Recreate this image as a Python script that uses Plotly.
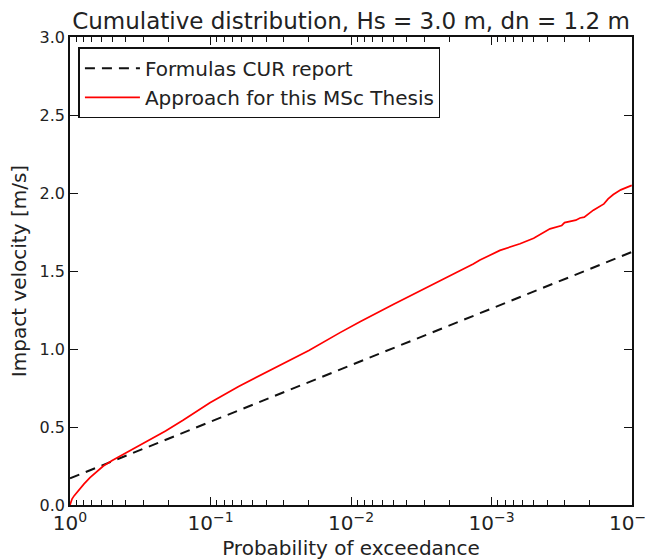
import numpy as np
import plotly.graph_objects as go

# Probability of exceedance as log10 exponents, impact velocities in m/s
cur_log_p = [0.0, -4.0]
cur_velocity = [0.171, 1.622]

thesis_log_p = [0.0, -0.005, -0.015, -0.03, -0.048, -0.07, -0.1, -0.142, -0.19,
                -0.237, -0.3, -0.38, -0.47, -0.57, -0.68, -0.807, -0.9, -0.996,
                -1.2, -1.459, -1.7, -1.922, -2.064, -2.30, -2.45, -2.586, -2.75,
                -2.87, -2.918, -3.06, -3.203, -3.30, -3.416, -3.50, -3.52, -3.60,
                -3.63, -3.66, -3.70, -3.725, -3.80, -3.83, -3.867, -3.92, -3.998]
thesis_velocity = [0.0, 0.02, 0.04, 0.06, 0.08, 0.105, 0.135, 0.175, 0.215,
                   0.25, 0.285, 0.325, 0.37, 0.42, 0.475, 0.545, 0.6, 0.655,
                   0.76, 0.878, 0.99, 1.105, 1.175, 1.285, 1.355, 1.415, 1.49,
                   1.545, 1.57, 1.632, 1.675, 1.71, 1.77, 1.792, 1.81, 1.826,
                   1.84, 1.845, 1.87, 1.89, 1.93, 1.962, 1.99, 2.02, 2.049]

# Decade labels written as powers of ten
x_label_alias = {"1": "10<sup>0</sup>"}
y_tickvals = [0.0, 0.5, 1.0, 1.5, 2.0, 2.5, 3.0]

font_family = "DejaVu Sans"
text_color = "#222222"
axis_color = "#111111"

fig = go.Figure()
fig.add_trace(go.Scatter(
    x=np.power(10.0, cur_log_p), y=cur_velocity, mode="lines",
    name="Formulas CUR report",
    line=dict(color=axis_color, width=2, dash="10px,7px"),
))
fig.add_trace(go.Scatter(
    x=np.power(10.0, thesis_log_p), y=thesis_velocity, mode="lines",
    name="Approach for this MSc Thesis",
    line=dict(color="#ff0000", width=1.7),
))

axis_common = dict(
    showgrid=False, zeroline=False, showline=True, linecolor=axis_color,
    linewidth=1.5, mirror="allticks", ticks="inside", tickcolor=axis_color,
    tickwidth=1, automargin=False, ticklabeloverflow="allow",
    tickfont=dict(family=font_family, size=16, color=text_color),
)

fig.update_xaxes(
    type="log", autorange="reversed", tickmode="linear", tick0=0, dtick=1,
    exponentformat="power", showexponent="all", labelalias=x_label_alias,
    ticklen=8,
    minor=dict(ticks="inside", ticklen=5, tickwidth=1, tickcolor=axis_color,
               dtick="D1", showgrid=False),
    title=dict(text="Probability of exceedance", standoff=8,
               font=dict(family=font_family, size=20, color=text_color)),
    **axis_common,
)
fig.update_yaxes(
    range=[0, 3], tickvals=y_tickvals, tickformat=".1f", ticklen=8,
    title=dict(text="Impact velocity [m/s]", standoff=8,
               font=dict(family=font_family, size=20, color=text_color)),
    **axis_common,
)

fig.update_layout(
    width=645, height=560,
    margin=dict(l=70, r=13, t=37, b=55),
    plot_bgcolor="white", paper_bgcolor="white",
    title=dict(text="Cumulative distribution, Hs = 3.0 m, dn = 1.2 m",
               x=0.5, xref="paper", xanchor="center",
               y=0.962, yref="container", yanchor="middle",
               font=dict(family=font_family, size=23, color=text_color)),
    legend=dict(x=0.015, y=0.978, xanchor="left", yanchor="top",
                bgcolor="white", bordercolor=axis_color, borderwidth=1.5,
                itemwidth=55,
                font=dict(family=font_family, size=20, color=text_color)),
    showlegend=True,
)

fig.write_html("out.html")
